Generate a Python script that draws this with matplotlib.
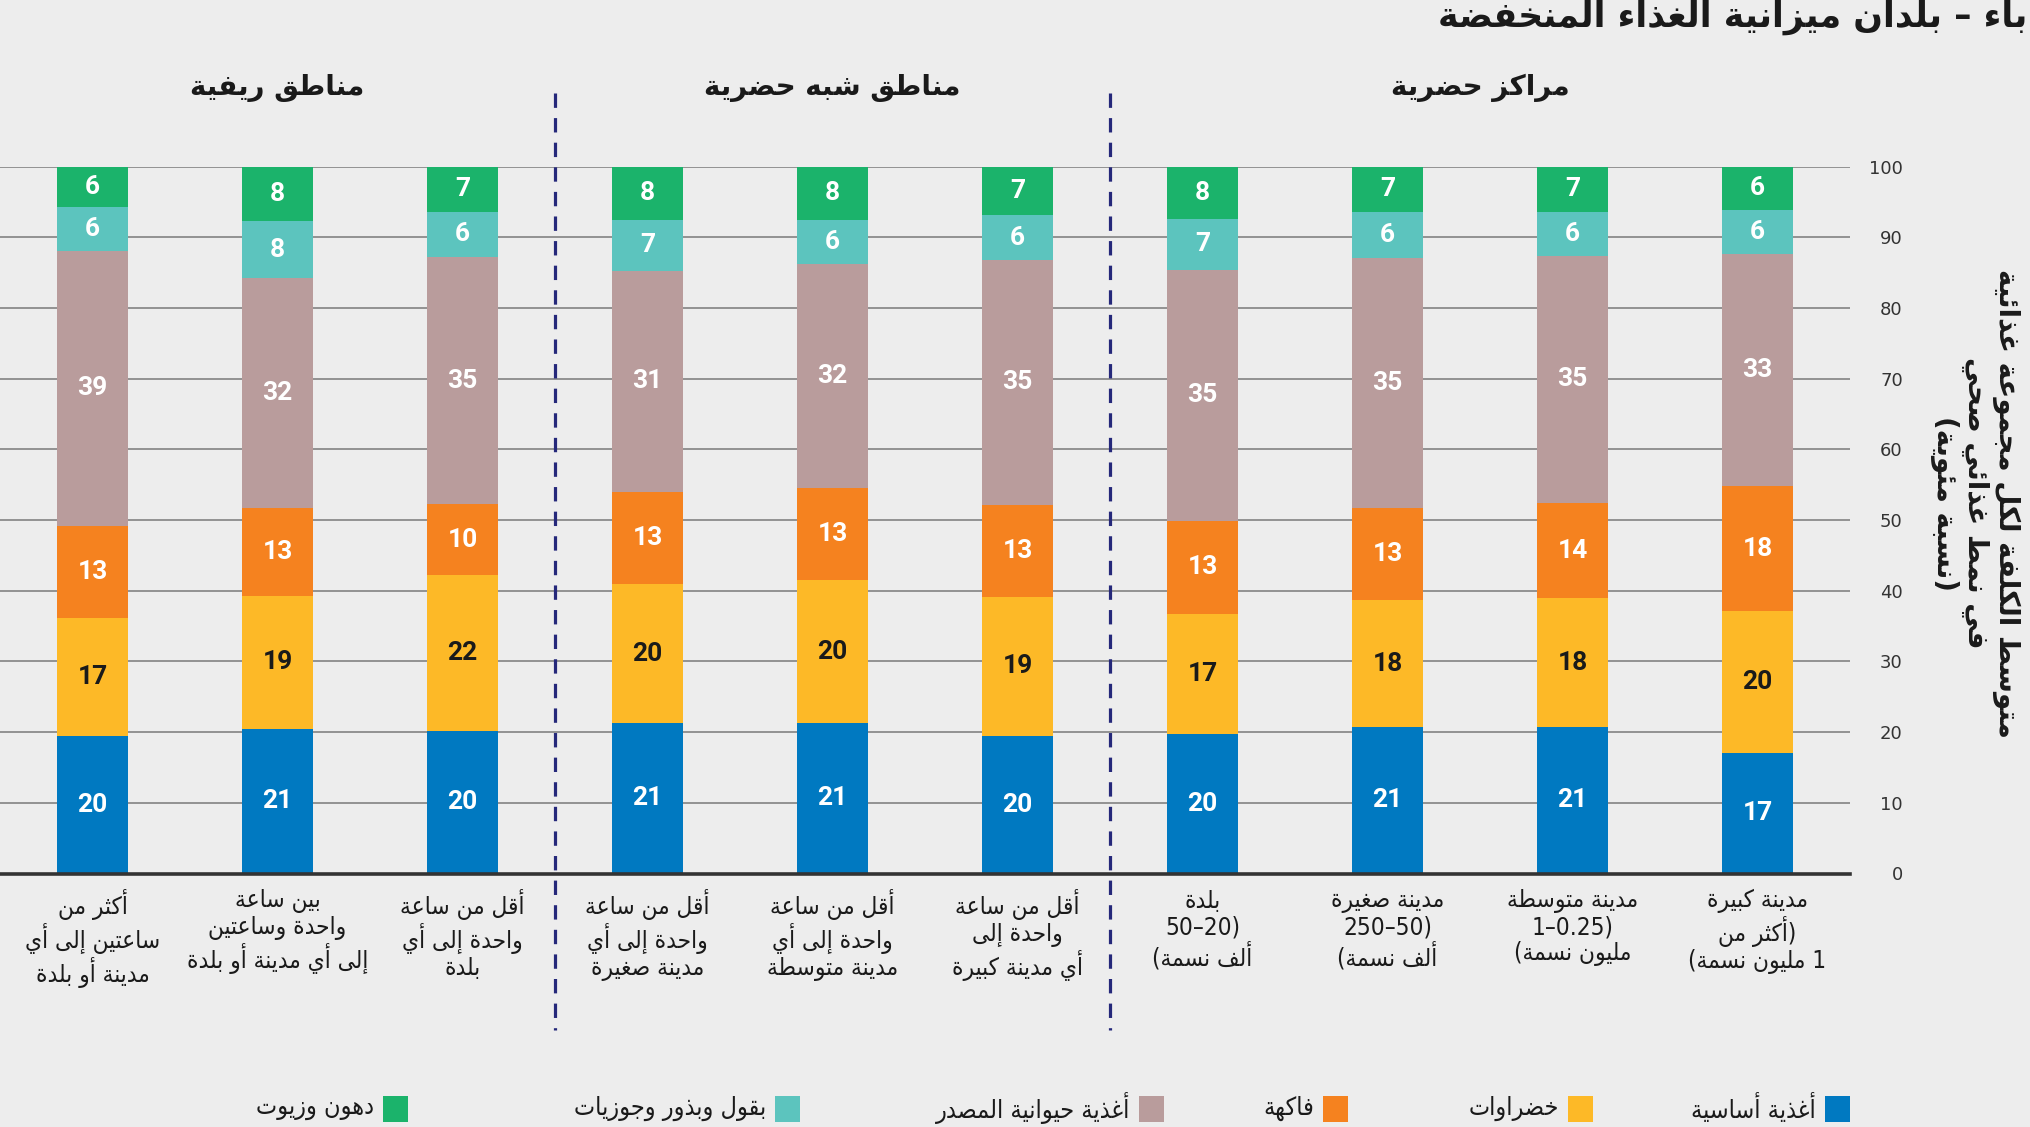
import matplotlib
matplotlib.use("Agg")
import matplotlib.pyplot as plt
import matplotlib.transforms as mtransforms
from matplotlib.patches import Rectangle
import numpy as np

# ---- data (logical order, first category is drawn on the right) ----
categories = [
    "مدينة كبيرة\n(أكثر من\n1 مليون نسمة)",
    "مدينة متوسطة\n(0.25–1\nمليون نسمة)",
    "مدينة صغيرة\n(50–250\nألف نسمة)",
    "بلدة\n(20–50\nألف نسمة)",
    "أقل من ساعة\nواحدة إلى\nأي مدينة كبيرة",
    "أقل من ساعة\nواحدة إلى أي\nمدينة متوسطة",
    "أقل من ساعة\nواحدة إلى أي\nمدينة صغيرة",
    "أقل من ساعة\nواحدة إلى أي\nبلدة",
    "بين ساعة\nواحدة وساعتين\nإلى أي مدينة أو بلدة",
    "أكثر من\nساعتين إلى أي\nمدينة أو بلدة",
]
groups = ["مراكز حضرية", "مناطق شبه حضرية", "مناطق ريفية"]
series_names = ["أغذية أساسية", "خضراوات", "فاكهة", "أغذية حيوانية المصدر",
                "بقول وبذور وجوزيات", "دهون وزيوت"]

# segment heights
staples = [17.1, 20.7, 20.7, 19.8, 19.5, 21.3, 21.3, 20.2, 20.5, 19.5]
vegetables = [20.0, 18.2, 18.0, 16.9, 19.6, 20.2, 19.6, 22.0, 18.7, 16.7]
fruits = [17.7, 13.5, 13.0, 13.2, 13.0, 13.0, 13.1, 10.0, 12.5, 13.0]
animal = [32.8, 35.0, 35.3, 35.5, 34.7, 31.7, 31.2, 35.0, 32.5, 38.8]
legumes = [6.2, 6.1, 6.5, 7.2, 6.3, 6.3, 7.3, 6.4, 8.1, 6.3]
oils = [6.2, 6.5, 6.5, 7.4, 6.9, 7.5, 7.5, 6.4, 7.7, 5.7]

# numbers printed on the segments
staples_lbl = [17, 21, 21, 20, 20, 21, 21, 20, 21, 20]
vegetables_lbl = [20, 18, 18, 17, 19, 20, 20, 22, 19, 17]
fruits_lbl = [18, 14, 13, 13, 13, 13, 13, 10, 13, 13]
animal_lbl = [33, 35, 35, 35, 35, 32, 31, 35, 32, 39]
legumes_lbl = [6, 6, 6, 7, 6, 6, 7, 6, 8, 6]
oils_lbl = [6, 7, 7, 8, 7, 8, 8, 7, 8, 6]

yticks = [0, 10, 20, 30, 40, 50, 60, 70, 80, 90, 100]

title = "باء – بلدان ميزانية الغذاء المنخفضة"
ylabel = "متوسط الكلفة لكل مجموعة غذائية\nفي نمط غذائي صحي\n(نسبة مئوية)"

colors = ["#0079C1", "#FDB927", "#F5821F", "#B99C9C", "#5CC4BE", "#1BB36B"]
text_colors = ["white", "#1A1A1A", "white", "white", "white", "white"]
BG = "#EDEDED"

# ---- minimal arabic shaping + right-to-left ordering ----
_letters = [("ء", 0xFE80, 1), ("آ", 0xFE81, 2), ("أ", 0xFE83, 2), ("ؤ", 0xFE85, 2),
            ("إ", 0xFE87, 2), ("ئ", 0xFE89, 4), ("ا", 0xFE8D, 2), ("ب", 0xFE8F, 4),
            ("ة", 0xFE93, 2), ("ت", 0xFE95, 4), ("ث", 0xFE99, 4), ("ج", 0xFE9D, 4),
            ("ح", 0xFEA1, 4), ("خ", 0xFEA5, 4), ("د", 0xFEA9, 2), ("ذ", 0xFEAB, 2),
            ("ر", 0xFEAD, 2), ("ز", 0xFEAF, 2), ("س", 0xFEB1, 4), ("ش", 0xFEB5, 4),
            ("ص", 0xFEB9, 4), ("ض", 0xFEBD, 4), ("ط", 0xFEC1, 4), ("ظ", 0xFEC5, 4),
            ("ع", 0xFEC9, 4), ("غ", 0xFECD, 4), ("ف", 0xFED1, 4), ("ق", 0xFED5, 4),
            ("ك", 0xFED9, 4), ("ل", 0xFEDD, 4), ("م", 0xFEE1, 4), ("ن", 0xFEE5, 4),
            ("ه", 0xFEE9, 4), ("و", 0xFEED, 2), ("ى", 0xFEEF, 2), ("ي", 0xFEF1, 4)]
FORMS = {c: [chr(s + k) for k in range(n)] for c, s, n in _letters}
LAM_ALEF = {"آ": 0xFEF5, "أ": 0xFEF7, "إ": 0xFEF9, "ا": 0xFEFB}
MIRROR = {"(": ")", ")": "("}


def shape(s):
    out = []
    i = 0
    while i < len(s):
        c = s[i]
        if c not in FORMS:
            out.append(c)
            i += 1
            continue
        prev = s[i - 1] if i > 0 else ""
        p = prev in FORMS and len(FORMS[prev]) == 4
        nxt = s[i + 1] if i + 1 < len(s) else ""
        if c == "ل" and nxt in LAM_ALEF:
            out.append(chr(LAM_ALEF[nxt] + (1 if p else 0)))
            i += 2
            continue
        q = nxt in FORMS and len(FORMS[nxt]) >= 2
        f = FORMS[c]
        if len(f) == 4:
            idx = 3 if (p and q) else 1 if p else 2 if q else 0
        elif len(f) == 2:
            idx = 1 if p else 0
        else:
            idx = 0
        out.append(f[idx])
        i += 1
    return "".join(out)


def visual(line):
    tokens = []
    for c in shape(line):
        if c.isascii() and (c.isdigit() or c == "."):
            if tokens and tokens[-1][0]:
                tokens[-1][1] += c
                continue
            tokens.append([True, c])
        else:
            tokens.append([False, MIRROR.get(c, c)])
    return "".join(t for _, t in reversed(tokens))


def ar(s):
    return "\n".join(visual(l) for l in s.split("\n"))


AR_FONT = dict(family="DejaVu Sans", fontstretch="condensed")
NUM_FONT = "Roboto"

# ---- figure ----
W, H = 2031, 1127
fig = plt.figure(figsize=(W / 100, H / 100), dpi=100, facecolor=BG)
ax = fig.add_axes([0, 1 - 873.5 / H, 1850 / W, 707 / H])
ax.set_facecolor(BG)

x = np.arange(len(categories))
series = [staples, vegetables, fruits, animal, legumes, oils]
labels = [staples_lbl, vegetables_lbl, fruits_lbl, animal_lbl, legumes_lbl, oils_lbl]
bottom = np.zeros(len(categories))
for vals, lbls, col, tcol in zip(series, labels, colors, text_colors):
    vals = np.array(vals)
    ax.bar(x, vals, width=0.381, bottom=bottom, color=col, linewidth=0, zorder=2)
    for xi, b, v, l in zip(x, bottom, vals, lbls):
        ax.text(xi, b + v / 2, str(l), ha="center", va="center", color=tcol,
                fontsize=19, fontweight="bold", family=NUM_FONT, zorder=3)
    bottom += vals

ax.set_xlim(len(categories) - 0.5, -0.5)
ax.set_ylim(0, 100)
for s in ax.spines.values():
    s.set_visible(False)
ax.axhline(0, color="#333333", lw=2.6, zorder=4, clip_on=False)

ax.set_yticks(yticks)
ax.yaxis.tick_right()
ax.yaxis.grid(True, color="#7a7a7a", lw=1.1)
ax.set_axisbelow(True)
ax.tick_params(axis="y", length=0, pad=38, labelsize=13, labelcolor="#333333")
for t in ax.get_yticklabels():
    t.set_ha("right")
    t.set_family("DejaVu Sans")

ax.set_xticks(x)
ax.set_xticklabels([ar(c) for c in categories], fontsize=17.5, linespacing=1.12,
                   color="#1A1A1A", **AR_FONT)
ax.tick_params(axis="x", length=0, pad=11)

# group separators and headers
trans = mtransforms.blended_transform_factory(ax.transData, ax.transAxes)
for xs in [3.5, 6.5]:
    ax.plot([xs, xs], [1.104, -0.221], transform=trans, clip_on=False,
            color="#25287A", lw=2.3, dashes=(4.5, 3.2), zorder=5)
for gx, g in zip([1.5, 5, 8], groups):
    ax.text(gx, 1.111, ar(g), transform=trans, ha="center", va="center",
            fontsize=20, fontweight="bold", color="#1A1A1A", family="DejaVu Sans")

# title, right aligned at the top edge
fig.text(1 - 4 / W, 1 - 17 / H, ar(title), ha="right", va="center",
         fontsize=25, fontweight="bold", color="#1A1A1A", family="DejaVu Sans")

# y axis title on the far right
fig.text(1975 / W, 1 - 503 / H, ar(ylabel), rotation=270, ha="center", va="center",
         multialignment="center", fontsize=20, fontweight="bold", linespacing=1.08,
         color="#1A1A1A", family="DejaVu Sans")

# legend
sq_right = [1850, 1593, 1348, 1164, 800, 408]
for r, col, name in zip(sq_right, colors, series_names):
    fig.add_artist(Rectangle(((r - 25) / W, 1 - 1122 / H), 25 / W, 26 / H,
                             transform=fig.transFigure, color=col, lw=0))
    fig.text((r - 34) / W, 1 - 1108 / H, ar(name), ha="right", va="center",
             fontsize=18, color="#1A1A1A", **AR_FONT)

fig.savefig("out.png", dpi=100, facecolor=BG)
